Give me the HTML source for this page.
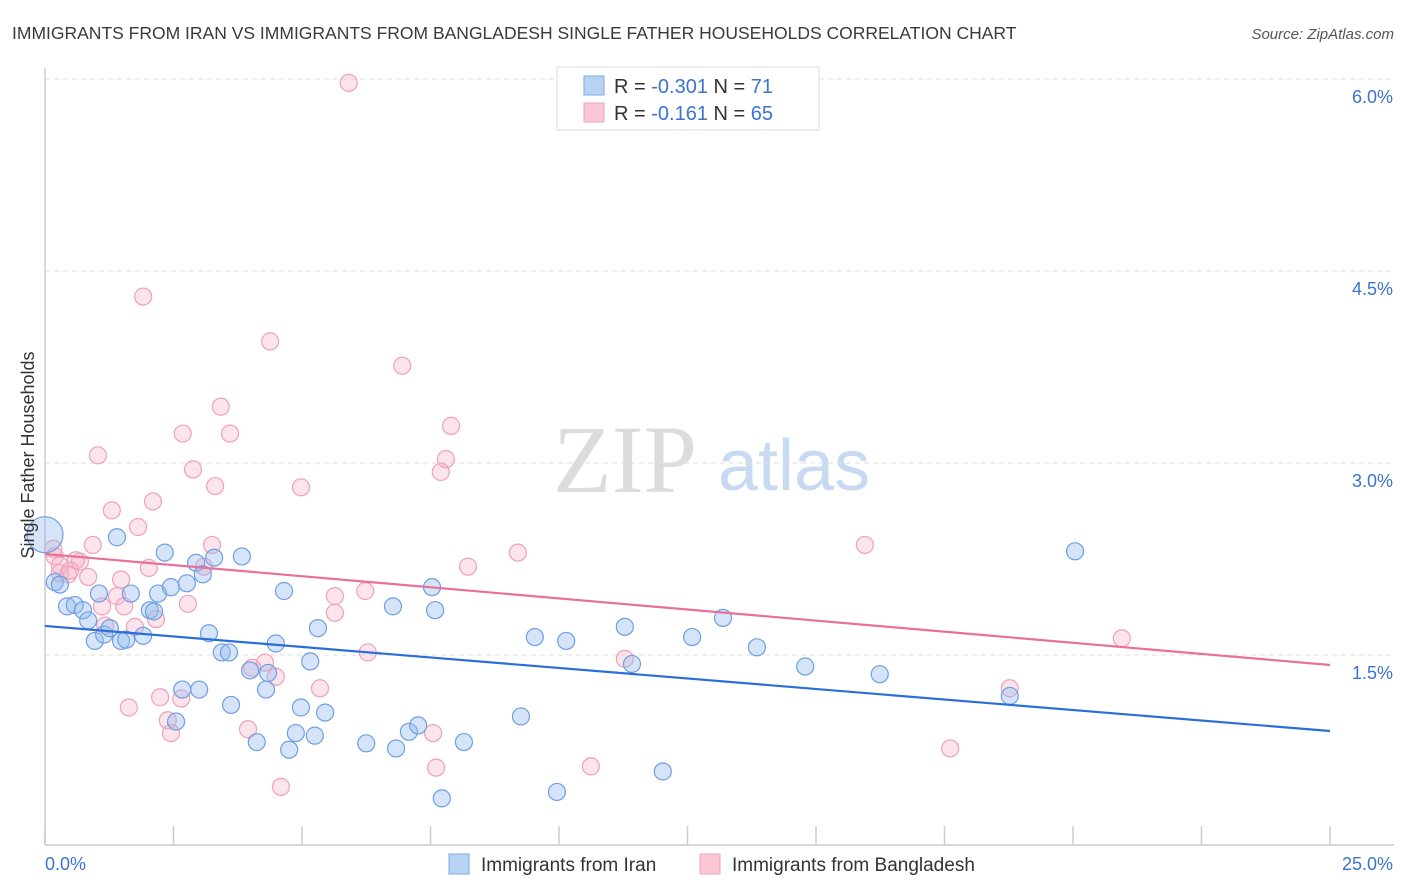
<!DOCTYPE html>
<html><head><meta charset="utf-8">
<style>
body{margin:0;background:#fff;font-family:"Liberation Sans",sans-serif;}
svg{display:block}
</style></head>
<body>
<svg id="chart" width="1406" height="892" xmlns="http://www.w3.org/2000/svg">
<text x="12" y="39" font-size="17.5" fill="#3a3a3a">IMMIGRANTS FROM IRAN VS IMMIGRANTS FROM BANGLADESH SINGLE FATHER HOUSEHOLDS CORRELATION CHART</text>
<text x="1394" y="39" font-size="15" fill="#555" font-style="italic" text-anchor="end">Source: ZipAtlas.com</text>
<g>
<text x="553" y="492" font-family="Liberation Serif,serif" font-size="96" fill="#dcdcdc">ZIP</text>
<text x="718" y="490" font-size="72" fill="#c8daf2">atlas</text>
</g>
<g id="grid"></g>
<g id="axes"></g>
<g id="marks"></g>
<g>
<rect x="557" y="67" width="262" height="63" fill="#fff" stroke="#ddd"/>
<rect x="584" y="76" width="20" height="19" fill="#b9d2f4" stroke="#7aaae8"/>
<rect x="584" y="103" width="20" height="19" fill="#f9c7d6" stroke="#f0a0b8"/>
<text x="614" y="93" font-size="20" fill="#333">R = <tspan fill="#3b73d2">-0.301</tspan>   N =  <tspan fill="#3b73d2">71</tspan></text>
<text x="614" y="120" font-size="20" fill="#333">R =  <tspan fill="#3b73d2">-0.161</tspan>   N = <tspan fill="#3b73d2">65</tspan></text>
</g>
<g>
<rect x="449" y="854" width="20" height="20" fill="#b9d2f4" stroke="#7aaae8"/>
<text x="481" y="871" font-size="19" fill="#333">Immigrants from Iran</text>
<rect x="700" y="854" width="20" height="20" fill="#f9c7d6" stroke="#f0a0b8"/>
<text x="732" y="871" font-size="19" fill="#333">Immigrants from Bangladesh</text>
</g>
<text transform="translate(34,455) rotate(-90)" font-size="18" fill="#333" text-anchor="middle">Single Father Households</text>
</svg>
<script>
const yTicks=[1.5,3.0,4.5,6.0];
const yTickLabels=["1.5%","3.0%","4.5%","6.0%"];
const xTickVals=[0,2.5,5,7.5,10,12.5,15,17.5,20,22.5,25];
const xLabels=["0.0%","25.0%"];
const iranX=[0,0.19,0.29,0.43,0.58,0.74,0.84,0.97,1.05,1.15,1.26,1.40,1.48,1.58,1.67,1.91,2.04,2.12,2.20,2.33,2.45,2.67,2.76,2.94,3.00,3.07,3.19,3.29,3.44,3.58,3.62,3.83,3.99,4.12,4.30,4.34,4.49,4.65,4.75,4.88,4.98,5.16,5.25,5.31,5.45,6.25,6.77,6.83,7.08,7.26,7.53,7.59,7.72,8.15,9.26,9.53,9.96,10.14,11.28,11.42,12.02,12.59,13.19,13.85,14.79,16.24,18.77,20.04,2.55];
const iranY=[2.44,2.07,2.05,1.88,1.89,1.85,1.77,1.61,1.98,1.66,1.71,2.42,1.61,1.62,1.98,1.65,1.85,1.84,1.98,2.30,2.03,1.23,2.06,2.22,1.23,2.13,1.67,2.26,1.52,1.52,1.11,2.27,1.38,0.82,1.23,1.36,1.59,2.00,0.76,0.89,1.09,1.45,0.87,1.71,1.05,0.81,1.88,0.77,0.90,0.95,2.03,1.85,0.38,0.82,1.02,1.64,0.43,1.61,1.72,1.43,0.59,1.64,1.79,1.56,1.41,1.35,1.18,2.31,0.98];
const bangX=[5.91,1.91,4.38,6.95,3.42,7.90,2.68,3.60,1.03,7.80,2.88,7.70,3.31,4.98,2.10,1.30,1.81,0.93,3.25,15.95,9.20,0.16,0.19,0.68,0.60,3.09,2.02,8.23,0.29,0.45,0.84,1.48,6.23,5.64,1.40,1.11,1.54,2.78,5.64,2.16,1.75,1.17,20.95,6.28,11.28,4.28,4.03,4.49,5.35,18.77,2.24,2.65,1.63,2.39,3.95,2.45,7.55,17.61,7.61,10.62,4.59,0.29,0.49];
const bangY=[5.97,4.30,3.95,3.76,3.44,3.29,3.23,3.23,3.06,3.03,2.95,2.93,2.82,2.81,2.70,2.63,2.50,2.36,2.36,2.36,2.30,2.33,2.27,2.23,2.24,2.19,2.18,2.19,2.14,2.13,2.11,2.09,2.00,1.96,1.96,1.88,1.88,1.90,1.83,1.78,1.72,1.73,1.63,1.52,1.47,1.44,1.40,1.33,1.24,1.24,1.17,1.16,1.09,0.99,0.92,0.89,0.89,0.77,0.62,0.63,0.47,2.20,2.16];
const iranTrend=[1.727,0.906];
const bangTrend=[2.289,1.422];
const NS="http://www.w3.org/2000/svg";
const X0=45,X1=1330,Y0=847,PXP=128;
function sx(v){return X0+v/25*(X1-X0);}
function sy(v){return Y0-v*PXP;}
function mk(t,a,p){const e=document.createElementNS(NS,t);for(const k in a)e.setAttribute(k,a[k]);p.appendChild(e);return e;}
const grid=document.getElementById('grid'),axes=document.getElementById('axes'),marks=document.getElementById('marks');
yTicks.forEach((v,i)=>{
 const l=mk('line',{x1:X0,x2:1394,y1:sy(v),y2:sy(v),stroke:'#dedede','stroke-dasharray':'5,4'},grid);
 
 
 const t=mk('text',{x:1393,y:sy(v)+24,'font-size':18,fill:'#3b73d2','text-anchor':'end'},axes);
 t.textContent=yTickLabels[i];
 
 
});
const ya=mk('line',{x1:X0,x2:X0,y1:68,y2:845,stroke:'#ccc','stroke-width':1.5},axes);


const xa=mk('line',{x1:X0,x2:1394,y1:845,y2:845,stroke:'#ccc','stroke-width':1.5},axes);


xTickVals.forEach(v=>{
 const l=mk('line',{x1:sx(v),x2:sx(v),y1:826,y2:845,stroke:'#ccc','stroke-width':1.5},axes);
 
 
});
const xl0=mk('text',{x:45,y:870,'font-size':18,fill:'#3b73d2'},axes);xl0.textContent=xLabels[0];


const xl1=mk('text',{x:1393,y:870,'font-size':18,fill:'#3b73d2','text-anchor':'end'},axes);xl1.textContent=xLabels[1];


bangX.forEach((x,i)=>{
 const c=mk('circle',{cx:sx(x),cy:sy(bangY[i]),r:8.5,fill:'rgba(246,178,200,0.35)',stroke:'#f0a0b8','stroke-width':1.2},marks);
 
 
});
iranX.forEach((x,i)=>{
 const c=mk('circle',{cx:sx(x),cy:sy(iranY[i]),r:i===0?18:8.5,fill:'rgba(150,188,238,0.4)',stroke:'#6d9fe4','stroke-width':1.2},marks);
 
 
});
const tb=mk('line',{x1:sx(0),x2:sx(25),y1:sy(iranTrend[0]),y2:sy(iranTrend[1]),stroke:'#2a6fd6','stroke-width':2.2},marks);


const tp=mk('line',{x1:sx(0),x2:sx(25),y1:sy(bangTrend[0]),y2:sy(bangTrend[1]),stroke:'#e8709a','stroke-width':2.2},marks);


</script>
</body></html>
